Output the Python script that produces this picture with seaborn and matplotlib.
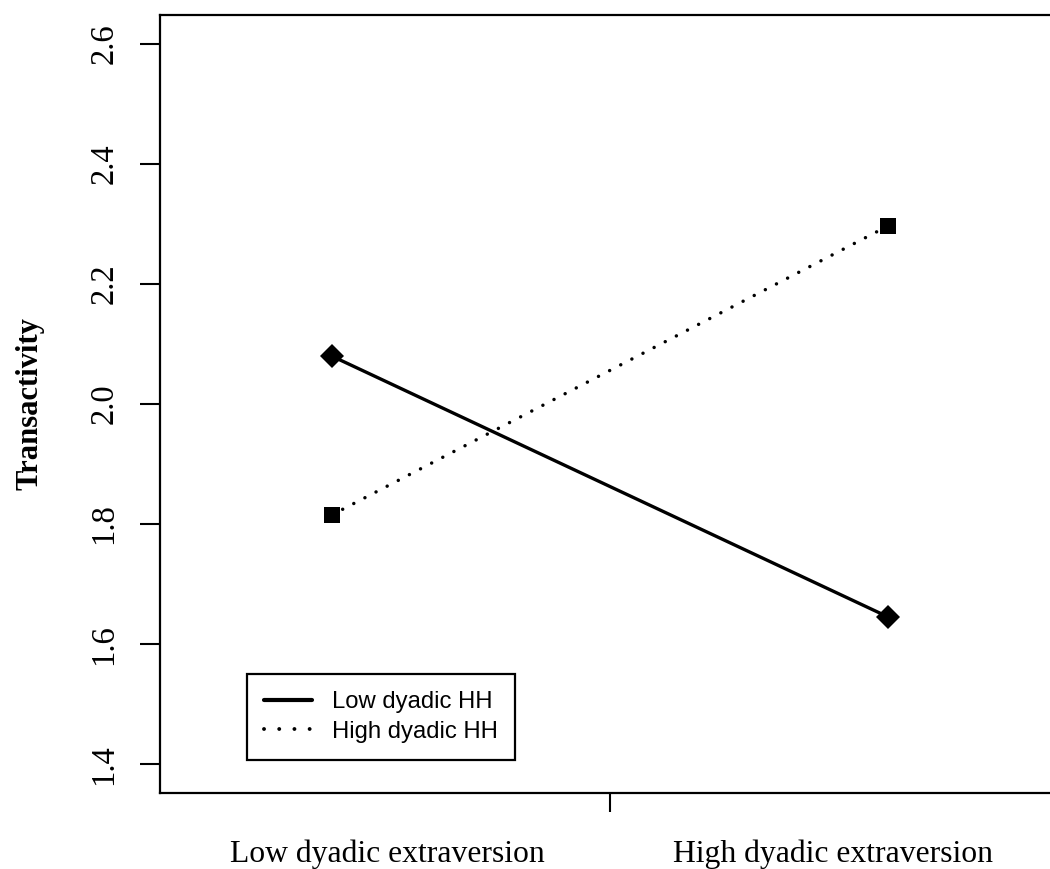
import matplotlib
matplotlib.use("Agg")
import matplotlib.pyplot as plt
from matplotlib.lines import Line2D
import pandas as pd
import seaborn as sns

conditions = ["Low dyadic extraversion", "High dyadic extraversion"]
x_pos = [1, 2]
label_pos = [1.1, 1.9]
groups = ["Low dyadic HH", "High dyadic HH"]
low_hh = [2.08, 1.645]
high_hh = [1.815, 2.297]
y_ticks = [1.4, 1.6, 1.8, 2.0, 2.2, 2.4, 2.6]

df = pd.DataFrame({
    "x": x_pos * 2,
    "y": low_hh + high_hh,
    "group": [groups[0]] * 2 + [groups[1]] * 2,
})

sns.set_style("white")
plt.rcParams["font.family"] = ["Liberation Serif", "DejaVu Serif"]
plt.rcParams["text.color"] = "black"
plt.rcParams["xtick.color"] = "black"
plt.rcParams["ytick.color"] = "black"

fig = plt.figure(figsize=(10.5, 8.69), dpi=100)
ax = fig.add_axes([160 / 1050, 76 / 869, 900 / 1050, 778 / 869])

dot = (0, (0.01, 3.6))
styles = {
    groups[0]: dict(marker="D", markersize=12.5, linestyle="-", linewidth=2.4),
    groups[1]: dict(marker="s", markersize=11.5, linestyle=dot, linewidth=2.5,
                    dash_capstyle="round"),
}
for g in groups:
    sub = df[df["group"] == g]
    sns.lineplot(data=sub, x="x", y="y", ax=ax, color="black", legend=False,
                 markeredgewidth=0, markeredgecolor="black", **styles[g])

ax.set_xlim(0.692, 2.308)
ax.set_ylim(1.352, 2.648)
ax.set_yticks(y_ticks)
ax.set_yticklabels([f"{v:.1f}" for v in y_ticks], rotation=90, va="center")
ax.set_xticks(label_pos)
ax.set_xticklabels(conditions)
ax.set_xticks([1.5], minor=True)
ax.tick_params(axis="x", which="major", bottom=True, length=0, pad=33.5,
               labelsize=22.8, labelcolor="black")
ax.tick_params(axis="x", which="minor", bottom=True, length=13.7, width=1.5,
               direction="out", color="black")
ax.tick_params(axis="y", left=True, length=14.4, width=1.5, pad=15,
               labelsize=23.5, direction="out", color="black",
               labelcolor="black")
ax.set_xlabel("")
ax.set_ylabel("")
for s in ax.spines.values():
    s.set_visible(True)
    s.set_linewidth(1.6)
    s.set_color("black")

fig.text(30 / 1050, 1 - 404 / 869, "Transactivity", rotation=90, ha="center",
         va="center", fontsize=22, fontweight="bold", color="black")

handles = [
    Line2D([], [], color="black", lw=3.0, ls="-"),
    Line2D([], [], color="black", lw=2.8, ls=(0, (0.01, 3.9)),
           dash_capstyle="round"),
]
leg = fig.legend(handles, groups, loc="upper left",
                 bbox_to_anchor=(247 / 1050, 1 - 674 / 869),
                 prop={"family": "Liberation Sans", "size": 17.2},
                 frameon=True, fancybox=False, edgecolor="black", framealpha=1,
                 handlelength=2.0, handletextpad=0.85, borderpad=0.72,
                 labelspacing=0.32, borderaxespad=0)
leg.get_frame().set_linewidth(1.6)
for t in leg.get_texts():
    t.set_color("black")

fig.savefig("out.png", dpi=100)
